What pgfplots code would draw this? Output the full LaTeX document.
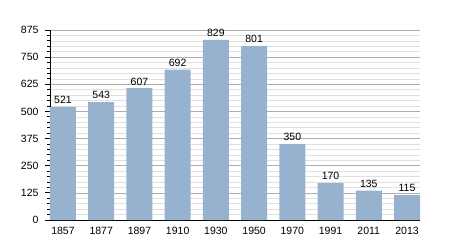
\documentclass[border=0pt]{standalone}
\usepackage{pgfplots}
\pgfplotsset{compat=1.18}
\usepackage{fontspec}
\setmainfont{Liberation Sans}
\definecolor{barc}{RGB}{151,178,206}
\begin{document}
\begin{tikzpicture}
\useasboundingbox (-50pt,-30pt) rectangle (400pt,220pt);
\begin{axis}[
  at={(0,0)}, anchor=south west,
  scale only axis, width=370pt, height=190pt,
  xmin=-0.34, xmax=9.34, ymin=0, ymax=875,
  ytick={0,125,...,875}, minor y tick num=4,
  ymajorgrids, yminorgrids,
  major grid style={draw=black!32, line width=0.6pt},
  minor grid style={draw=black!12, line width=0.6pt},
  axis x line*=bottom, axis y line*=left,
  axis line style={black, line width=0.8pt},
  xtick={0,...,9},
  xticklabels={1857,1877,1897,1910,1930,1950,1970,1991,2011,2013},
  x tick style={draw=none},
  y tick style={black, line width=0.8pt},
  tick align=outside, major tick length=5pt, minor tick length=2.5pt,
  ticklabel style={font=\fontsize{10.5}{12}\selectfont},
  /pgf/number format/assume math mode=true,
  yticklabel style={xshift=-3pt},
  xticklabel style={yshift=1pt},
  ybar, bar width=26pt,
  nodes near coords,
  every node near coord/.append style={font=\fontsize{10.5}{12}\selectfont, black, yshift=-0.5pt},
]
\addplot[fill=barc, draw=none] coordinates {
(0,521) (1,543) (2,607) (3,692) (4,829) (5,801) (6,350) (7,170) (8,135) (9,115)};
\end{axis}
\end{tikzpicture}
\end{document}
